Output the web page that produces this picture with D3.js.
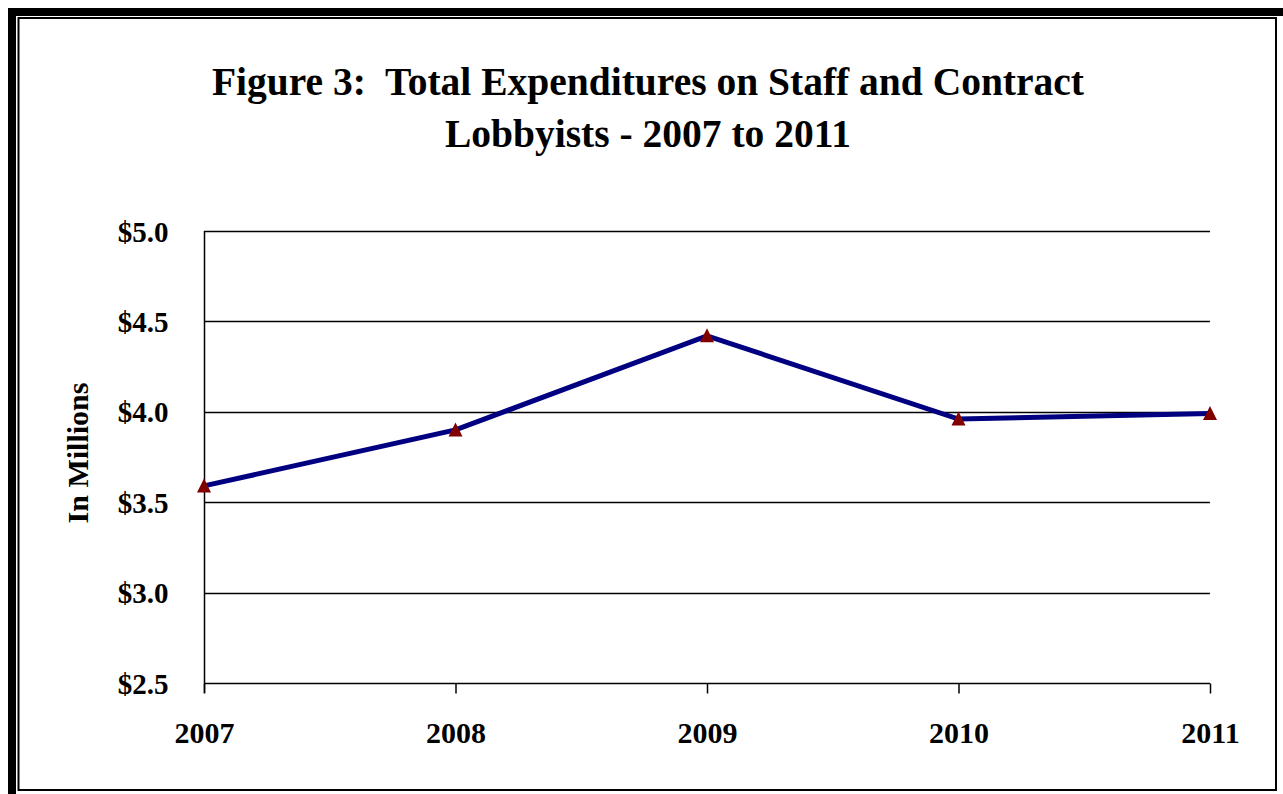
<!DOCTYPE html>
<html>
<head>
<meta charset="utf-8">
<script src="https://cdn.jsdelivr.net/npm/d3@7"></script>
<style>
html,body{margin:0;padding:0;background:#fff;}
svg{display:block;}
text{font-family:"Liberation Serif","Times New Roman",serif;font-weight:bold;fill:#000;}
</style>
</head>
<body>
<script>
const years = ["2007", "2008", "2009", "2010", "2011"];
const expenditures = [3.59, 3.90, 4.42, 3.96, 3.99];
const yTicks = [2.5, 3.0, 3.5, 4.0, 4.5, 5.0];
const titleLines = ["Figure 3:  Total Expenditures on Staff and Contract", "Lobbyists - 2007 to 2011"];
const yAxisTitle = "In Millions";

const W = 1283, H = 794;
const svg = d3.select("body").append("svg").attr("width", W).attr("height", H);

// frame
svg.append("rect").attr("x", 12).attr("y", 12).attr("width", 1283).attr("height", 800)
  .attr("fill", "none").attr("stroke", "#000").attr("stroke-width", 8);
svg.append("rect").attr("x", 18.5).attr("y", 18).attr("width", 1257.5).attr("height", 772)
  .attr("fill", "none").attr("stroke", "#000").attr("stroke-width", 2);

const x = d3.scalePoint().domain(years).range([204, 1210]);
const y = d3.scaleLinear().domain([2.5, 5.0]).range([683, 231]);

// title
svg.append("text").attr("x", 648).attr("y", 95).attr("text-anchor", "middle")
  .style("font-size", "39.5px").attr("xml:space", "preserve").text(titleLines[0]);
svg.append("text").attr("x", 648).attr("y", 147).attr("text-anchor", "middle")
  .style("font-size", "39.5px").text(titleLines[1]);

// gridlines
svg.append("g").selectAll("line").data(yTicks.filter(d => d > 2.5)).join("line")
  .attr("x1", 204).attr("x2", 1210)
  .attr("y1", d => Math.round(y(d)) + 0.5).attr("y2", d => Math.round(y(d)) + 0.5)
  .attr("stroke", "#000").attr("stroke-width", 1.5);

// y axis
const yAxis = d3.axisLeft(y).tickValues(yTicks).tickSize(0).tickPadding(36)
  .tickFormat(d => "$" + d3.format(".1f")(d));
const gy = svg.append("g").attr("transform", "translate(204.5,0)").call(yAxis);
gy.select(".domain").remove();
gy.selectAll("text").style("font-size", "29px").style("font-family", null).attr("dy", "0.35em");
svg.append("line").attr("x1", 204.5).attr("x2", 204.5).attr("y1", 231).attr("y2", 693)
  .attr("stroke", "#000").attr("stroke-width", 1.5);

// x axis
const xAxis = d3.axisBottom(x).tickSize(10).tickPadding(28);
const gx = svg.append("g").attr("transform", "translate(0,683.5)").call(xAxis);
gx.select(".domain").attr("d", "M204,0H1210").attr("stroke-width", 1.5);
gx.selectAll(".tick line").attr("stroke-width", 1.5);
gx.selectAll("text").style("font-size", "30px").style("font-family", null);

// y axis title
svg.append("text").attr("transform", "translate(88,453) rotate(-90)")
  .attr("text-anchor", "middle").style("font-size", "30px").text(yAxisTitle);

// line
const data = years.map((yr, i) => ({yr, v: expenditures[i]}));
svg.append("path").datum(data)
  .attr("d", d3.line().x(d => x(d.yr)).y(d => y(d.v)))
  .attr("fill", "none").attr("stroke", "#000080").attr("stroke-width", 5)
  .attr("stroke-linejoin", "miter");

// markers
svg.append("g").selectAll("path").data(data).join("path")
  .attr("transform", d => `translate(${x(d.yr)},${y(d.v)})`)
  .attr("d", "M0,-7.5L7,6.5L-7,6.5Z")
  .attr("fill", "#800000");
</script>
</body>
</html>
